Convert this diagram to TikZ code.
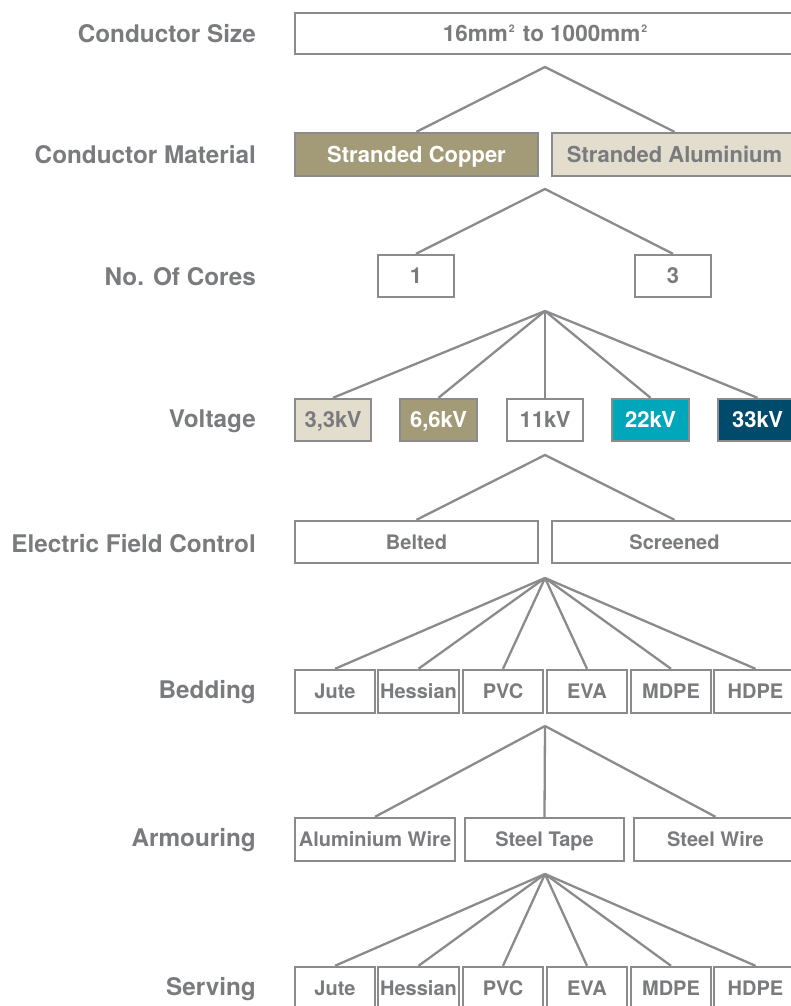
\documentclass[tikz,border=0pt]{standalone}
\usepackage{fontspec}
\setmainfont{TeX Gyre Heros}
\definecolor{ln}{HTML}{8B8B8D}
\definecolor{tx}{HTML}{7A7B7E}
\definecolor{ccopper}{HTML}{A39B78}
\definecolor{calu}{HTML}{E3DDCD}
\definecolor{cteal}{HTML}{00A7BA}
\definecolor{cnavy}{HTML}{004B6B}
\newcommand\sqr{\kern1pt\raisebox{0.4em}{\fontsize{10.5}{10.5}\selectfont 2}\kern2pt}
\tikzset{
  conn/.style={draw=ln, line width=2.3pt},
  lab/.style={anchor=base east, text=tx, inner sep=0pt, font=\bfseries\fontsize{24.3}{29}\selectfont},
  bx/.style={draw=ln, line width=2.4pt, fill=white, text=tx, inner sep=0pt,
     font=\bfseries\fontsize{22}{26}\selectfont, text height=15.8pt, text depth=0pt},
  topbx/.style={bx, font=\bfseries\fontsize{22.5}{26}\selectfont, text height=16.2pt},
  sbx/.style={bx, font=\bfseries\fontsize{20}{24}\selectfont, text height=14.4pt},
  copperbox/.style={fill=ccopper, text=white},
  alubox/.style={fill=calu, text=tx},
  tealbox/.style={fill=cteal, text=white},
  navybox/.style={fill=cnavy, text=white},
}
% name, x1, y1, x2, y2, style, text
\newcommand\boxat[7]{\node[#6, minimum width={#4-#2}, minimum height={#5-#3}] (#1) at ({(#2+#4)/2},{(#3+#5)/2}) {#7};}
\begin{document}
\begin{tikzpicture}[x=1pt,y=-1pt]
\useasboundingbox (0,0) rectangle (791,1006);
% apex coordinates
\coordinate (a1) at (545,67);
\coordinate (a2) at (545,189);
\coordinate (a3) at (545,311);
\coordinate (a4) at (545,455);
\coordinate (a5) at (545,578);
\coordinate (a6) at (545,726);
\coordinate (a7) at (545,874);
% left labels
\node[lab] (l1) at (256,43) {Conductor Size};
\node[lab] (l2) at (256,163) {Conductor Material};
\node[lab] (l3) at (256,285) {No. Of Cores};
\node[lab] (l4) at (256,427) {Voltage};
\node[lab] (l5) at (256,552) {Electric Field Control};
\node[lab] (l6) at (256,698) {Bedding};
\node[lab] (l7) at (256,846) {Armouring};
\node[lab] (l8) at (256,995) {Serving};
% boxes
\boxat{size}{295}{13}{797}{54}{topbx}{16mm\sqr{} to 1000mm\sqr}
\boxat{cu}{295}{133}{538}{176}{bx,copperbox}{Stranded Copper}
\boxat{al}{552}{133}{797}{176}{bx,alubox}{Stranded Aluminium}
\boxat{c1}{378}{255}{454}{297}{bx}{1}
\boxat{c3}{635}{255}{711}{297}{bx}{3}
\boxat{v1}{295}{399}{371}{441}{bx,alubox}{3,3kV}
\boxat{v2}{400}{399}{477}{441}{bx,copperbox}{6,6kV}
\boxat{v3}{507}{399}{583}{441}{bx}{11kV}
\boxat{v4}{612}{399}{689}{441}{bx,tealbox}{22kV}
\boxat{v5}{718}{399}{797}{441}{bx,navybox}{33kV}
\boxat{belt}{295}{521}{538}{563}{sbx}{Belted}
\boxat{scr}{552}{521}{797}{563}{sbx}{Screened}
\boxat{b1}{295}{670}{375}{713}{sbx}{Jute}
\boxat{b2}{378}{670}{459}{713}{sbx}{Hessian}
\boxat{b3}{463}{670}{543}{713}{sbx}{PVC}
\boxat{b4}{547}{670}{627}{713}{sbx}{EVA}
\boxat{b5}{631}{670}{711}{713}{sbx}{MDPE}
\boxat{b6}{714}{670}{797}{713}{sbx}{HDPE}
\boxat{r1}{295}{818}{455}{861}{sbx}{Aluminium Wire}
\boxat{r2}{465}{818}{624}{861}{sbx}{Steel Tape}
\boxat{r3}{634}{818}{797}{861}{sbx}{Steel Wire}
\boxat{s1}{295}{967}{375}{1010}{sbx}{Jute}
\boxat{s2}{378}{967}{459}{1010}{sbx}{Hessian}
\boxat{s3}{463}{967}{543}{1010}{sbx}{PVC}
\boxat{s4}{547}{967}{627}{1010}{sbx}{EVA}
\boxat{s5}{631}{967}{711}{1010}{sbx}{MDPE}
\boxat{s6}{714}{967}{797}{1010}{sbx}{HDPE}
% connectors
\draw[conn] (cu.north) -- (a1) -- (al.north);
\draw[conn] (c1.north) -- (a2) -- (c3.north);
\foreach \n in {v1,v2,v3,v4,v5} \draw[conn] (a3) -- (\n.north);
\draw[conn] (belt.north) -- (a4) -- (scr.north);
\foreach \n in {b1,b2,b3,b4,b5,b6} \draw[conn] (a5) -- (\n.north);
\foreach \n in {r1,r2,r3} \draw[conn] (a6) -- (\n.north);
\foreach \n in {s1,s2,s3,s4,s5,s6} \draw[conn] (a7) -- (\n.north);
\end{tikzpicture}
\end{document}
